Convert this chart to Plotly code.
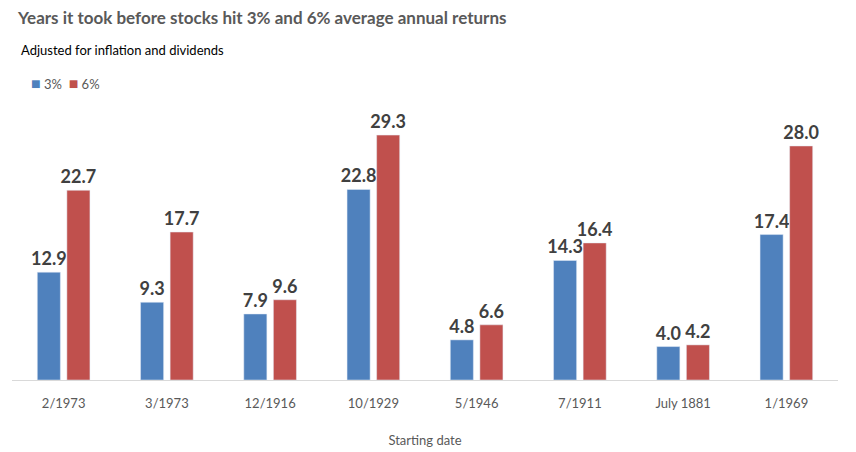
import plotly.graph_objects as go

categories = ["2/1973", "3/1973", "12/1916", "10/1929", "5/1946", "7/1911", "July 1881", "1/1969"]
series_3 = [12.9, 9.3, 7.9, 22.8, 4.8, 14.3, 4.0, 17.4]
series_6 = [22.7, 17.7, 9.6, 29.3, 6.6, 16.4, 4.2, 28.0]
series_names = ["3%", "6%"]
colors = ["#4F81BD", "#C0504D"]

FONT = "Lato"
label_font = dict(family=FONT, size=18, color="#404040")

fig = go.Figure()
for name, vals, col in zip(series_names, [series_3, series_6], colors):
    fig.add_trace(go.Bar(
        x=categories, y=vals, name=name, marker_color=col,
        text=[f"<b>{v:.1f}</b>" for v in vals], textposition="outside",
        textfont=label_font, constraintext="none", cliponaxis=False,
    ))

legend_text = "&nbsp;&nbsp;".join(
    f"<span style='color:{c};font-size:16px'>■</span> {n}" for n, c in zip(series_names, colors))

fig.update_layout(
    width=856, height=452,
    margin=dict(l=12, r=18, t=100, b=72),
    paper_bgcolor="white", plot_bgcolor="white",
    barmode="group", bargap=0.427, bargroupgap=0.22,
    showlegend=False,
    title=dict(text="<b>Years it took before stocks hit 3% and 6% average annual returns</b>",
               x=0.021, xanchor="left", y=0.961, yanchor="middle",
               font=dict(family=FONT, size=17, color="#595959")),
    annotations=[
        dict(text="Adjusted for inflation and dividends", xref="paper", yref="paper",
             x=0.008, y=1.179, xanchor="left", yanchor="middle", showarrow=False,
             font=dict(family=FONT, size=13, color="#000000")),
        dict(text=legend_text, xref="paper", yref="paper",
             x=0.021, y=1.064, xanchor="left", yanchor="middle", showarrow=False,
             font=dict(family=FONT, size=13, color="#595959")),
    ],
    xaxis=dict(showline=True, linecolor="#D9D9D9", linewidth=1, ticks="",
               ticklabelstandoff=11, automargin=False,
               tickfont=dict(family=FONT, size=13, color="#595959"),
               title=dict(text="Starting date", font=dict(family=FONT, size=13, color="#595959"), standoff=26)),
    yaxis=dict(range=[0, 33.5], visible=False, showgrid=False),
)
fig.write_html("out.html", config={"displayModeBar": False},
               post_script="document.body.style.margin='0';document.body.style.padding='0';")
